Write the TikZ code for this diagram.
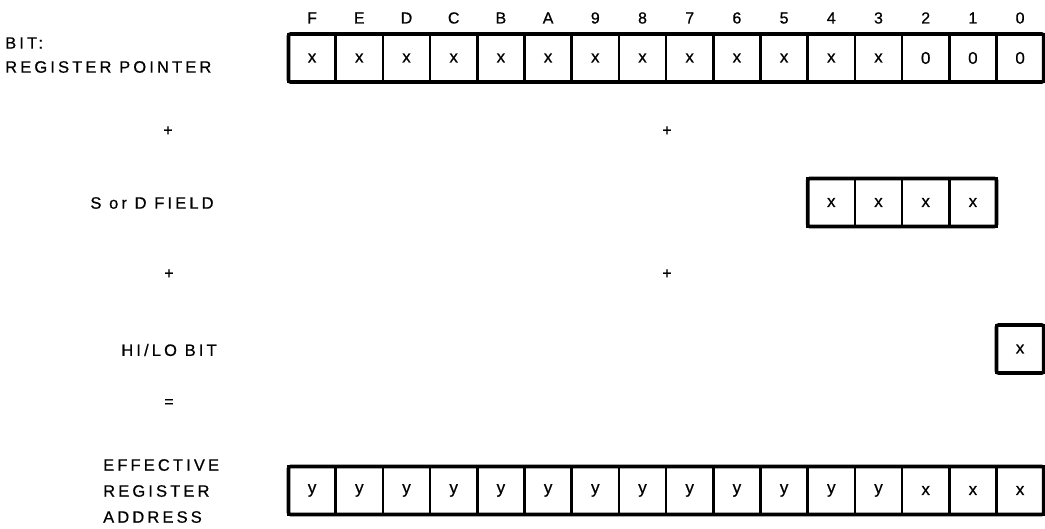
\documentclass[tikz,border=0pt]{standalone}
\usepackage{fontspec}
\setmainfont[FakeBold=0.6]{Liberation Sans}
\newfontfamily\spacedsans[LetterSpace=19,FakeBold=0.6]{Liberation Sans}
\usetikzlibrary{positioning}

\begin{document}
\begin{tikzpicture}[x=1pt, y=-1pt,
  every node/.style={font=\fontsize{16}{18}\selectfont, inner sep=0pt},
  cell/.style={rectangle, draw, line width=2.5pt, outer sep=0pt,
               minimum width=47.2pt, minimum height=48pt,
               font=\fontsize{17}{18}\selectfont},
  regframe/.style={line width=3.6pt, rounded corners=2pt},
  caption/.style={font=\spacedsans\fontsize{16.5}{26}\selectfont, align=left}
]
\useasboundingbox (0,0) rectangle (1045,529);

% bit numbers
\foreach \b/\h in {15/F,14/E,13/D,12/C,11/B,10/A,9/9,8/8,7/7,6/6,5/5,4/4,3/3,2/2,1/1,0/0}
  \node[anchor=base] (bit\b) at ({1020.1-47.2*\b},23.5) {\h};

% register pointer and effective address
\foreach \b in {3,...,15} {
  \node[cell] (rp\b) at ({1020.1-47.2*\b},58) {x};
  \node[cell] (ea\b) at ({1020.1-47.2*\b},490.5) {y};
}
\foreach \b in {0,1,2} {
  \node[cell] (rp\b) at ({1020.1-47.2*\b},58) {0};
  \node[cell] (ea\b) at ({1020.1-47.2*\b},490.5) {x};
}

% S or D field, hi/lo bit
\foreach \b in {1,...,4}
  \node[cell] (sd\b) at ({1020.1-47.2*\b},202.5) {x};
\node[cell] (hl0) at (1020.1,349) {x};

\draw[regframe] (rp15.north west) rectangle (rp0.south east);
\draw[regframe] (sd4.north west) rectangle (sd1.south east);
\draw[regframe] (hl0.north west) rectangle (hl0.south east);
\draw[regframe] (ea15.north west) rectangle (ea0.south east);

% left-hand labels
\node[caption, anchor=west] (bitword) at (5,43) {BIT:};
\node[caption, anchor=west] (rplab) at (5,67) {REGISTER POINTER};
\node (plus1) at (168,131) {+};
\node (plus2) at (667,131) {+};
\node[caption] (sdlab) at (152,203) {S or D FIELD};
\node (plus3) at (169,274) {+};
\node (plus4) at (667,274) {+};
\node[caption] (hllab) at (169,350) {HI/LO BIT};
\node (eq) at (169,403) {=};
\node[caption, anchor=north west] (ealab) at (103,459) {EFFECTIVE\\REGISTER\\ADDRESS};
\end{tikzpicture}
\end{document}
